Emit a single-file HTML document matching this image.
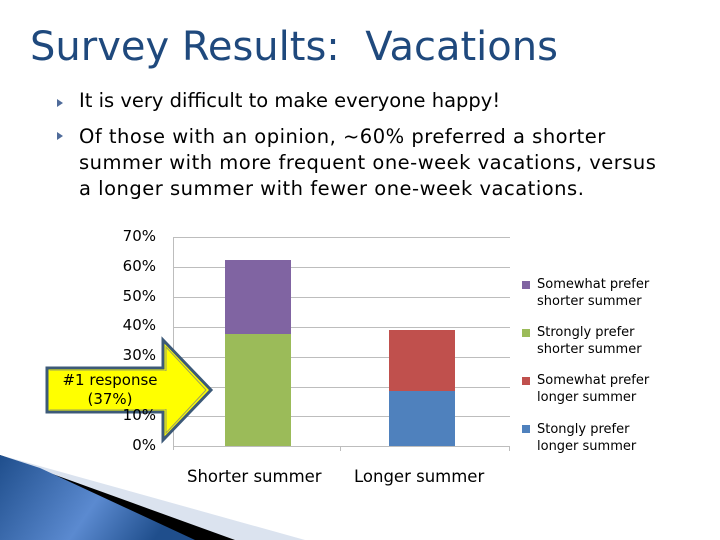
<!DOCTYPE html>
<html><head><style>
body{margin:0;width:720px;height:540px;background:#fff;overflow:hidden;position:relative;font-family:"DejaVu Sans","Liberation Sans",sans-serif}
.t{position:absolute;white-space:nowrap}
</style></head><body>
<svg width="720" height="540" style="position:absolute;left:0;top:0">
<defs><linearGradient id="bg" x1="0" y1="0" x2="1" y2="0.3"><stop offset="0" stop-color="#1f4e8c"/><stop offset="0.6" stop-color="#5b8ad0"/><stop offset="1" stop-color="#1f4e8c"/></linearGradient></defs>
<polygon points="0,455 305,540 0,540" fill="#dbe3ef"/>
<polygon points="0,455 235,540 0,540" fill="#000"/>
<polygon points="0,455 40,468 195,540 0,540" fill="url(#bg)"/>
<g stroke="#bdbdbd" stroke-width="1">
<line x1="173" y1="237.5" x2="510" y2="237.5"/><line x1="173" y1="267.5" x2="510" y2="267.5"/><line x1="173" y1="297.5" x2="510" y2="297.5"/><line x1="173" y1="327.5" x2="510" y2="327.5"/><line x1="173" y1="357.5" x2="510" y2="357.5"/><line x1="173" y1="387.5" x2="510" y2="387.5"/><line x1="173" y1="416.5" x2="510" y2="416.5"/><line x1="173" y1="446.5" x2="510" y2="446.5"/>
<line x1="173.5" y1="237" x2="173.5" y2="450"/><line x1="340.5" y1="446" x2="340.5" y2="451"/><line x1="509.5" y1="446" x2="509.5" y2="451"/>
</g>
<rect x="225" y="260" width="66" height="74" fill="#8064a2"/>
<rect x="225" y="334" width="66" height="112" fill="#9bbb59"/>
<rect x="389" y="330" width="66" height="61" fill="#c0504d"/>
<rect x="389" y="391" width="66" height="55" fill="#4f81bd"/>
<rect x="522" y="281" width="8" height="8" fill="#8064a2"/>
<rect x="522" y="329" width="8" height="8" fill="#9bbb59"/>
<rect x="522" y="377" width="8" height="8" fill="#c0504d"/>
<rect x="522" y="425" width="8" height="8" fill="#4f81bd"/>
<polygon points="47,368 163,368 163,340 211,390 163,440 163,412 47,412" fill="#ffff00" stroke="#3c5a78" stroke-width="3"/>
<polygon points="50,371 166,371 166,347 206,390 166,433 166,409 50,409" fill="none" stroke="#9aa060" stroke-width="1"/>
<g fill="#4f6b9a"><polygon points="57,99 63,103 57,107"/><polygon points="57,132 63,136 57,140"/></g>
</svg>
<div class="t" style="left:30px;top:24px;font-size:40px;color:#1f497d;font-family:'DejaVu Sans',sans-serif;letter-spacing:0px">Survey Results:&nbsp; Vacations</div>
<div class="t" style="left:79px;top:89px;font-size:19.5px;color:#000;font-family:'DejaVu Sans',sans-serif">It is very difficult to make everyone happy!</div>
<div class="t" style="left:79px;top:124px;font-size:19.5px;line-height:26px;color:#000;font-family:'DejaVu Sans',sans-serif;letter-spacing:0.5px">Of those with an opinion, ~60% preferred a shorter<br>summer with more frequent one-week vacations, versus<br>a longer summer with fewer one-week vacations.</div>
<div style="position:absolute;left:90px;top:222px;width:66px;text-align:right;font-size:15px;line-height:29.8px;font-family:'DejaVu Sans',sans-serif">70%<br>60%<br>50%<br>40%<br>30%<br>20%<br>10%<br>0%</div>
<div class="t" style="left:187px;top:467px;font-size:16.5px;font-family:'DejaVu Sans',sans-serif">Shorter summer</div>
<div class="t" style="left:354px;top:467px;font-size:16.5px;font-family:'DejaVu Sans',sans-serif">Longer summer</div>
<div class="t" style="left:537px;top:276px;font-size:13px;line-height:17px;font-family:'DejaVu Sans',sans-serif">Somewhat prefer<br>shorter summer</div>
<div class="t" style="left:537px;top:324px;font-size:13px;line-height:17px;font-family:'DejaVu Sans',sans-serif">Strongly prefer<br>shorter summer</div>
<div class="t" style="left:537px;top:372px;font-size:13px;line-height:17px;font-family:'DejaVu Sans',sans-serif">Somewhat prefer<br>longer summer</div>
<div class="t" style="left:537px;top:421px;font-size:13px;line-height:17px;font-family:'DejaVu Sans',sans-serif">Stongly prefer<br>longer summer</div>
<div style="position:absolute;left:49px;top:371px;width:120px;height:38px;background:#ffff00"></div>
<div class="t" style="left:44px;top:371px;width:132px;text-align:center;font-size:15px;line-height:19px;font-family:'DejaVu Sans',sans-serif">#1 response<br>(37%)</div>
</body></html>
